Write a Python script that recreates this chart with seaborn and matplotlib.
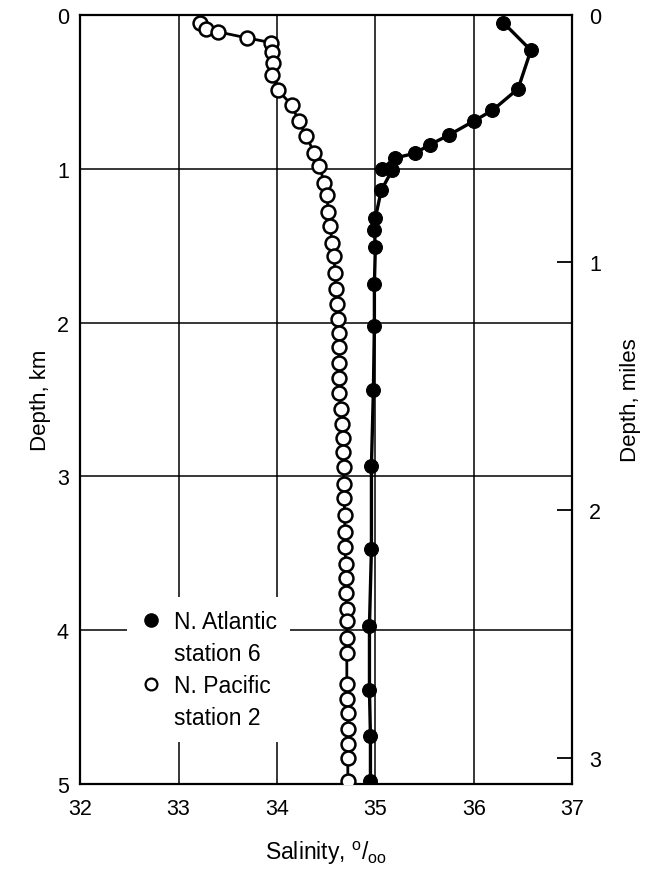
import matplotlib
matplotlib.use("Agg")
import matplotlib.pyplot as plt
from matplotlib.lines import Line2D
from matplotlib import font_manager
import seaborn as sns
import pandas as pd

# ---- data ----
atl_depth_km = [0.05, 0.23, 0.48, 0.62, 0.69, 0.78, 0.845, 0.90, 0.93, 1.00, 1.01, 1.14,
                1.32, 1.40, 1.51, 1.75, 2.02, 2.44, 2.93, 3.47, 3.97, 4.39, 4.69, 4.98]
atl_salinity = [36.30, 36.58, 36.45, 36.19, 36.00, 35.75, 35.55, 35.40, 35.20, 35.07, 35.17, 35.06,
                35.00, 34.99, 35.00, 34.99, 34.99, 34.98, 34.96, 34.96, 34.94, 34.94, 34.95, 34.95]

pac_depth_km = [0.05, 0.09, 0.11, 0.15, 0.18, 0.24, 0.31, 0.39, 0.49, 0.585, 0.69, 0.79, 0.90,
                0.98, 1.09, 1.17, 1.28, 1.37, 1.48, 1.57, 1.68, 1.78, 1.88, 1.98, 2.07, 2.16,
                2.26, 2.36, 2.46, 2.56, 2.66, 2.75, 2.84, 2.94, 3.05, 3.14, 3.25, 3.36, 3.46,
                3.57, 3.66, 3.76, 3.86, 3.94, 4.05, 4.15, 4.35, 4.45, 4.54, 4.64, 4.74, 4.83, 4.98]
pac_salinity = [33.22, 33.28, 33.40, 33.70, 33.94, 33.95, 33.96, 33.95, 34.01, 34.15, 34.22, 34.30,
                34.38, 34.43, 34.48, 34.51, 34.52, 34.54, 34.56, 34.58, 34.59, 34.60, 34.61, 34.62,
                34.63, 34.63, 34.63, 34.63, 34.63, 34.65, 34.66, 34.67, 34.67, 34.68, 34.68, 34.68,
                34.69, 34.69, 34.69, 34.70, 34.70, 34.70, 34.71, 34.71, 34.71, 34.71, 34.71, 34.71,
                34.72, 34.72, 34.72, 34.72, 34.72]

series_labels = ["N. Atlantic", "station 6", "N. Pacific", "station 2"]
x_ticks = [32, 33, 34, 35, 36, 37]
km_ticks = [0, 1, 2, 3, 4, 5]
mile_ticks = [0, 1, 2, 3]
KM_PER_MILE = 1.609344

atl = pd.DataFrame({"salinity": atl_salinity, "depth": atl_depth_km})
pac = pd.DataFrame({"salinity": pac_salinity, "depth": pac_depth_km})

# ---- style ----
sns.set_style("white")
plt.rcParams["font.family"] = ["Liberation Sans", "DejaVu Sans"]
plt.rcParams["mathtext.fontset"] = "custom"
plt.rcParams["mathtext.rm"] = "Liberation Sans"
plt.rcParams["text.color"] = "black"
plt.rcParams["axes.labelcolor"] = "black"

installed = {f.name for f in font_manager.fontManager.ttflist}
tick_family = "Liberation Sans Narrow" if "Liberation Sans Narrow" in installed else "Liberation Sans"
tick_size = 17 if tick_family == "Liberation Sans Narrow" else 15.5

fig = plt.figure(figsize=(6.51, 8.70), dpi=100)
ax = fig.add_axes([0.123, 0.0977, 0.756, 0.884])

sns.lineplot(data=pac, x="salinity", y="depth", sort=False, estimator=None, ax=ax,
             color="black", linewidth=2.0, marker="o", markersize=10,
             markerfacecolor="white", markeredgecolor="black", markeredgewidth=1.8, zorder=3)
sns.lineplot(data=atl, x="salinity", y="depth", sort=False, estimator=None, ax=ax,
             color="black", linewidth=2.4, marker="o", markersize=10,
             markerfacecolor="black", markeredgecolor="black", zorder=4)

ax.set_xlim(32, 37)
ax.set_ylim(5, 0)
ax.set_xticks(x_ticks)
ax.set_yticks(km_ticks)
ax.grid(True, color="black", linewidth=1.1, zorder=0)
ax.set_axisbelow(True)
for s in ax.spines.values():
    s.set_color("black")
    s.set_linewidth(1.6)
ax.tick_params(axis="both", length=0, colors="black")
ax.tick_params(axis="y", pad=8)
ax.tick_params(axis="x", pad=10)
for lab in ax.get_xticklabels() + ax.get_yticklabels():
    lab.set_fontfamily(tick_family)
    lab.set_fontsize(tick_size)
ax.set_xlabel(r"Salinity, $^{\mathrm{o}}/_{\mathrm{oo}}$", fontsize=16.5, labelpad=14, color="black")
ax.set_ylabel("Depth, km", fontsize=16, labelpad=4, color="black")

# right axis in miles
ax2 = ax.twinx()
ax2.set_ylim(5 / KM_PER_MILE, 0)
ax2.set_yticks(mile_ticks)
ax2.tick_params(axis="y", direction="in", length=11, width=1.3, pad=12, colors="black")
for lab in ax2.get_yticklabels():
    lab.set_fontfamily(tick_family)
    lab.set_fontsize(tick_size)
ax2.set_ylabel("Depth, miles", fontsize=16, labelpad=14, color="black")
for s in ax2.spines.values():
    s.set_visible(False)

# legend
h_atl = Line2D([], [], linestyle="none", marker="o", markersize=9.5,
               markerfacecolor="black", markeredgecolor="black")
h_pac = Line2D([], [], linestyle="none", marker="o", markersize=8.5,
               markerfacecolor="white", markeredgecolor="black", markeredgewidth=1.6)
h_blank = Line2D([], [], linestyle="none")
leg = ax.legend([h_atl, h_blank, h_pac, h_blank], series_labels,
                loc="upper left", bbox_to_anchor=(0.0955, 0.243), fontsize=16.5,
                frameon=True, fancybox=False, framealpha=1, facecolor="white",
                edgecolor="none", handlelength=1.0, handletextpad=0.5,
                labelspacing=0.4, borderpad=0.55, borderaxespad=0)
for t in leg.get_texts():
    t.set_color("black")
leg.set_zorder(5)

fig.savefig("out.png", dpi=100)
